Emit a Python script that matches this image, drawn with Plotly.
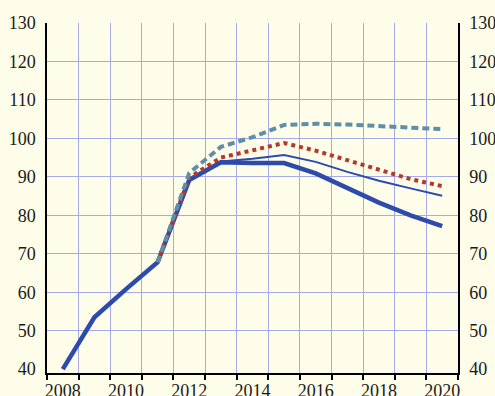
import plotly.graph_objects as go

years = list(range(2008, 2021))
actual = [40, 53.5, 60.8, 67.8, 89.2, 93.8, 93.6, 93.6, 90.9, 87.0, 83.3, 80.0, 77.2]
thin_series = [None, None, None, 67.8, 89.2, 94.0, 94.7, 95.7, 93.9, 91.3, 89.0, 87.0, 85.1]
dotted_series = [None, None, None, 67.8, 89.8, 95.0, 96.8, 98.8, 96.8, 94.4, 91.9, 89.4, 87.6]
dashed_series = [None, None, None, 67.8, 91.0, 97.8, 100.3, 103.5, 103.8, 103.6, 103.3, 102.8, 102.4]

x_labels = [2008, 2010, 2012, 2014, 2016, 2018, 2020]
y_ticks = [40, 50, 60, 70, 80, 90, 100, 110, 120, 130]
y_grid = [50, 60, 70, 80, 90, 100, 110, 120, 130]

BG = "#FEFDE9"
GRID = "#A6AAE6"
FONT = dict(family="Liberation Serif, Times New Roman, serif", size=18, color="#1a1a1a")

fig = go.Figure()
fig.add_trace(go.Scatter(x=years, y=actual, mode="lines",
                         line=dict(color="#2C4BAA", width=4.5), showlegend=False))
fig.add_trace(go.Scatter(x=years, y=thin_series, mode="lines",
                         line=dict(color="#2C4BAA", width=2), showlegend=False))
fig.add_trace(go.Scatter(x=years, y=dotted_series, mode="lines",
                         line=dict(color="#B5392B", width=4, dash="4px,4px"), showlegend=False))
fig.add_trace(go.Scatter(x=years, y=dashed_series, mode="lines", yaxis="y2",
                         line=dict(color="#5E8FA6", width=4, dash="7px,4px"), showlegend=False))

fig.update_layout(
    width=495, height=396,
    margin=dict(l=47, r=37, t=23, b=23),
    paper_bgcolor=BG, plot_bgcolor=BG,
    font=FONT,
    showlegend=False,
    xaxis=dict(
        range=[2007.5, 2020.5], automargin=False, ticklabeloverflow="allow",
        tickmode="array", tickvals=x_labels, ticktext=[str(v) for v in x_labels],
        ticks="outside", ticklen=1, tickcolor="rgba(0,0,0,0)",
        showgrid=False, zeroline=False,
        showline=True, linecolor="black", linewidth=1.5,
        minor=dict(tickmode="linear", tick0=2007.5, dtick=1, ticks="outside",
                   ticklen=5, tickcolor="black", tickwidth=1.5,
                   showgrid=True, gridcolor=GRID, gridwidth=1),
        tickfont=FONT,
    ),
    yaxis=dict(
        range=[39, 130], automargin=False, ticklabeloverflow="allow",
        tickmode="array", tickvals=y_ticks,
        ticks="", showgrid=False, zeroline=False,
        showline=True, linecolor="black", linewidth=1.5,
        minor=dict(tickmode="array", tickvals=y_grid, ticks="",
                   showgrid=True, gridcolor=GRID, gridwidth=1),
        tickfont=FONT, ticklabelstandoff=6,
    ),
    yaxis2=dict(
        range=[39, 130], overlaying="y", side="right", automargin=False,
        ticklabeloverflow="allow",
        tickmode="array", tickvals=y_ticks,
        ticks="", showgrid=False, zeroline=False,
        showline=True, linecolor="black", linewidth=1.5,
        tickfont=FONT, ticklabelstandoff=6,
    ),
)

fig.write_html(
    "out.html",
    config={"displayModeBar": False},
    post_script="document.body.style.margin='0';document.body.style.overflow='hidden';"
                "document.body.style.background='" + BG + "';",
)
